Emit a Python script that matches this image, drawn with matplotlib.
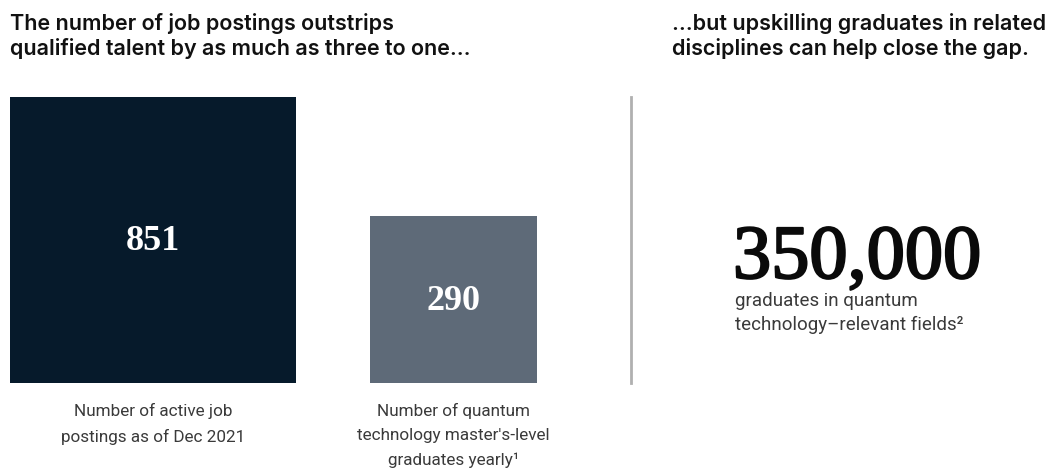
import numpy as np
import matplotlib.pyplot as plt
import matplotlib.patheffects as pe
from matplotlib.patches import Rectangle

# data
values = [851, 290]
value_labels = ["851", "290"]
bar_labels = ["Number of active job\npostings as of Dec 2021",
              "Number of quantum\ntechnology master's-level\ngraduates yearly\u00b9"]
bar_colors = ["#061a2b", "#5e6a78"]
big_number = "350,000"
big_caption = "graduates in quantum\ntechnology\u2013relevant fields\u00b2"
title_left = "The number of job postings outstrips\nqualified talent by as much as three to one\u2026"
title_right = "...but upskilling graduates in related\ndisciplines can help close the gap."

W, H = 1055, 472
fig = plt.figure(figsize=(W / 100, H / 100), dpi=100)
ax = fig.add_axes([0, 0, 1, 1])
ax.set_xlim(0, W)
ax.set_ylim(H, 0)
ax.axis("off")

# squares: area proportional to value, bottom aligned
base = 383
scale = 286 / np.sqrt(max(values))
lefts = [10, 370]
for v, lab, txt, c, x0 in zip(values, value_labels, bar_labels, bar_colors, lefts):
    s = np.sqrt(v) * scale
    ax.add_patch(Rectangle((x0, base - s), s, s, color=c, lw=0))
    cx = x0 + s / 2
    ax.text(cx, base - s / 2 + 2, lab, color="white", ha="center", va="center",
            fontsize=26, family="Liberation Serif", weight="bold")
    ax.text(cx, base + 20, txt, color="#3a3a3a", ha="center", va="top",
            fontsize=12.3, family="Roboto", linespacing=1.75)

# divider
ax.plot([631, 631], [97, 383], color="#b0b0b0", lw=2)

# titles
ax.text(10, 13, title_left, ha="left", va="top", fontsize=15.5,
        family="Inter", weight="semibold", color="#111111", linespacing=1.25)
ax.text(672, 13, title_right, ha="left", va="top", fontsize=15.5,
        family="Inter", weight="semibold", color="#111111", linespacing=1.25)

# big number
ax.text(733, 278, big_number, ha="left", va="baseline", fontsize=55,
        family="Liberation Serif", color="#0a0a0a",
        path_effects=[pe.withStroke(linewidth=1.6, foreground="#0a0a0a")])
ax.text(735, 292, big_caption, ha="left", va="top", fontsize=13.5,
        family="Roboto", color="#3a3a3a", linespacing=1.45)

fig.savefig("out.png", dpi=100)
